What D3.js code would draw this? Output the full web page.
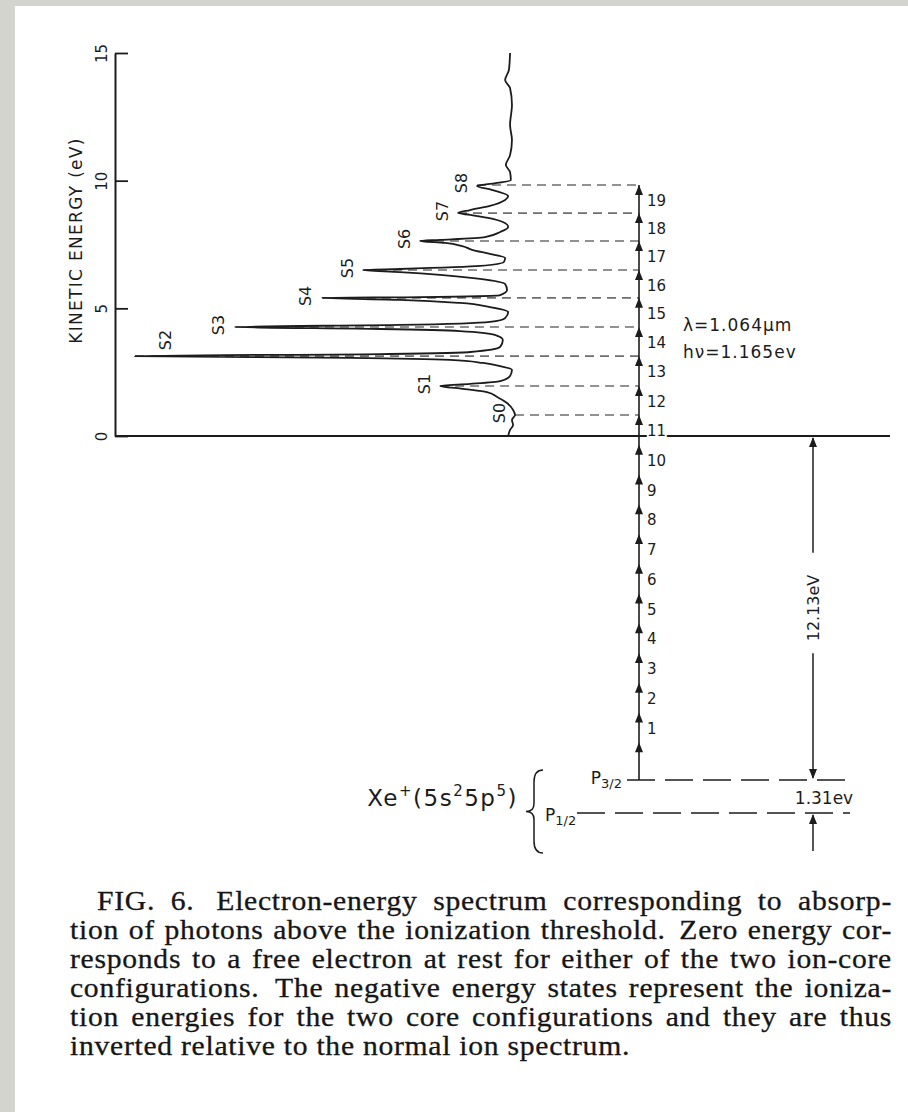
<!DOCTYPE html>
<html><head><meta charset="utf-8">
<script src="https://cdn.jsdelivr.net/npm/d3@7"></script>
<style>
html,body{margin:0;padding:0;background:#fff;}
svg{display:block;}
</style></head><body>
<svg id="fig" width="908" height="1112"></svg>
<script>
// Above-threshold photoelectron peaks S0–S8: kinetic energy (eV) and peak height (S2 = 100)
const peakNames  = ["S0","S1","S2","S3","S4","S5","S6","S7","S8"];
const peakEnergy = [0.82, 1.96, 3.13, 4.27, 5.41, 6.50, 7.64, 8.73, 9.83];
const peakSignal = [0, 19.7, 100, 73.7, 50.8, 40.0, 25.0, 15.0, 10.0];

// Recorded electron spectrum, from 15 eV down to 0 eV
const traceEnergy = [15.00,14.34,13.94,13.63,12.97,12.18,11.59,11.00,10.61,10.34,10.03,9.87,9.79,9.64,9.40,9.24,9.01,8.85,8.73,8.66,8.54,8.38,8.19,7.99,7.79,7.68,7.64,7.56,7.44,7.29,7.13,6.97,6.82,6.66,6.54,6.50,6.42,6.31,6.15,5.95,5.72,5.52,5.44,5.41,5.33,5.21,5.05,4.86,4.62,4.47,4.35,4.27,4.19,4.11,3.96,3.76,3.49,3.29,3.21,3.13,3.06,2.98,2.86,2.74,2.59,2.35,2.15,2.04,1.96,1.84,1.72,1.53,1.29,1.02,0.82,0.63,0.43,0.24,0.00];
const traceSignal = [1.3,1.6,2.6,1.3,0.8,1.3,0.8,1.3,2.4,1.3,1.1,6.6,10.0,6.1,1.8,2.6,6.6,11.8,15.0,11.8,7.1,3.2,1.8,3.9,7.9,19.7,25.0,18.4,13.9,11.3,6.6,2.6,2.9,9.2,30.3,40.0,30.3,19.7,9.2,2.6,2.1,3.9,25.0,50.8,30.3,14.5,6.6,1.8,2.6,6.6,30.3,73.7,35.5,14.5,5.3,3.2,3.9,11.8,35.5,100,43.4,17.1,8.4,3.9,0.8,1.3,3.9,11.8,19.7,13.2,7.4,4.7,2.1,0.5,0,0.8,0.5,1.3,1.8];

const energyTicks = [0, 5, 10, 15];
const photonLabels = [1,2,3,4,5,6,7,8,9,10,11,12,13,14,15,16,17,18,19];

// Laser and Xe+ core constants (eV)
const photonEnergy = 1.165;
const ionizationEnergy = 12.13;     // to Xe+ 2P3/2
const coreSplitting = 1.31;         // 2P3/2 – 2P1/2

const captionLines = [
  "FIG. 6.  Electron-energy spectrum corresponding to absorp-",
  "tion of photons above the ionization threshold.  Zero energy cor-",
  "responds to a free electron at rest for either of the two ion-core",
  "configurations.  The negative energy states represent the ioniza-",
  "tion energies for the two core configurations and they are thus",
  "inverted relative to the normal ion spectrum."
];

const svg = d3.select("#fig");
const ink = "#1c1c1c";
const sans = "'DejaVu Sans', Verdana, sans-serif";

// page: grey scanner margin and white sheet
svg.append("rect").attr("width", 908).attr("height", 1112).attr("fill", "#d3d4ce");
svg.append("rect").attr("x", 15).attr("y", 6).attr("width", 893).attr("height", 1106).attr("fill", "#fff");

// scales
const y = d3.scaleLinear().domain([0, 15]).range([436, 53]);               // kinetic energy
const yCore = d3.scaleLinear()                                             // bound levels (schematic)
  .domain([-(ionizationEnergy + coreSplitting), -ionizationEnergy, 0])
  .range([813, 780, 436]);
const xs = d3.scaleLinear().domain([0, 100]).range([515, 135]);            // signal, growing leftward

const axisX = 115, ladderX = 639, gapArrowX = 813;

// energy axis
const ax = svg.append("g").attr("transform", `translate(${axisX},0)`)
  .call(d3.axisLeft(y).tickValues(energyTicks).tickSize(-13).tickSizeOuter(0).tickPadding(0));
ax.select(".domain").attr("stroke", ink).attr("stroke-width", 2);
ax.selectAll(".tick line").attr("stroke", ink).attr("stroke-width", 1.8);
ax.selectAll(".tick text")
  .attr("x", null).attr("dy", null)
  .attr("transform", "translate(-8,0) rotate(-90)")
  .attr("text-anchor", "middle")
  .attr("font-family", sans).attr("font-size", 15).attr("fill", ink);

svg.append("text")
  .attr("transform", `translate(82,${(y(15) + y(0)) / 2 - 4}) rotate(-90)`)
  .attr("text-anchor", "middle")
  .attr("font-family", sans).attr("font-size", 17).attr("letter-spacing", 1.3).attr("fill", ink)
  .text("KINETIC ENERGY (eV)");

// zero-energy line
svg.append("line").attr("x1", axisX).attr("x2", 890).attr("y1", y(0)).attr("y2", y(0))
  .attr("stroke", ink).attr("stroke-width", 2);

// dashed lines joining each peak to its photon level
svg.append("g").selectAll("line").data(peakEnergy).join("line")
  .attr("x1", (d, i) => xs(peakSignal[i])).attr("x2", ladderX)
  .attr("y1", d => y(d)).attr("y2", d => y(d))
  .attr("stroke", "#6e6e6e").attr("stroke-width", 1.6).attr("stroke-dasharray", "9,6");

// spectrum trace
const tracePts = traceEnergy.map((e, i) => [traceSignal[i], e]);
svg.append("path").datum(tracePts)
  .attr("d", d3.line().x(d => xs(d[0])).y(d => y(d[1])).curve(d3.curveMonotoneY))
  .attr("fill", "none").attr("stroke", ink).attr("stroke-width", 1.8).attr("stroke-linejoin", "round");

// peak labels
svg.append("g").selectAll("text").data(peakNames).join("text")
  .attr("transform", (d, i) => {
    const px = xs(peakSignal[i]), py = y(peakEnergy[i]);
    return px < 160 ? `translate(${px + 30},${py - 16}) rotate(-90)`
                    : `translate(${px - 16},${py - 2}) rotate(-90)`;
  })
  .attr("text-anchor", "middle").attr("dominant-baseline", "central")
  .attr("font-family", sans).attr("font-size", 16).attr("fill", ink)
  .text(d => d);

// photon ladder: levels reached after k photons (k = 0 … 19)
const levelEnergy = k => k >= 11 ? peakEnergy[k - 11] : peakEnergy[0] - (11 - k) * photonEnergy;
const ladderLevels = [0].concat(photonLabels).map(levelEnergy);

svg.append("line").attr("x1", ladderX).attr("x2", ladderX)
  .attr("y1", y(ladderLevels[ladderLevels.length - 1])).attr("y2", yCore(-ionizationEnergy))
  .attr("stroke", ink).attr("stroke-width", 1.6);

const head = (x, yy, dir) => `M${x},${yy} L${x - 4},${yy - dir * 10} L${x + 4},${yy - dir * 10} Z`;
svg.append("g").selectAll("path").data(ladderLevels).join("path")
  .attr("d", d => head(ladderX, y(d), -1)).attr("fill", ink);

svg.append("g").selectAll("text").data(photonLabels).join("text")
  .attr("x", ladderX + 8).attr("y", k => y(ladderLevels[k]) + 16)
  .attr("dominant-baseline", "central")
  .attr("font-family", sans).attr("font-size", 15).attr("fill", ink)
  .attr("stroke", "#fff").attr("stroke-width", 4).attr("paint-order", "stroke")
  .text(d => d);

// laser annotation
const laser = svg.append("g").attr("font-family", sans).attr("font-size", 17).attr("letter-spacing", 1).attr("fill", ink);
laser.append("text").attr("x", 683).attr("y", y(4.27) + 4).text("λ=1.064μm");
laser.append("text").attr("x", 683).attr("y", y(3.13) + 2).text(`hν=${photonEnergy}ev`);

// ionization gap arrow (12.13 eV)
const gapTop = yCore(0), gapBot = yCore(-ionizationEnergy), gapMid = (gapTop + gapBot) / 2;
const gapLabel = svg.append("text")
  .attr("transform", `translate(${gapArrowX},${gapMid}) rotate(-90)`)
  .attr("text-anchor", "middle").attr("dominant-baseline", "central")
  .attr("font-family", sans).attr("font-size", 16).attr("fill", ink)
  .text(`${ionizationEnergy}eV`);
const half = gapLabel.node().getComputedTextLength() / 2;
svg.append("line").attr("x1", gapArrowX).attr("x2", gapArrowX)
  .attr("y1", gapTop + 2).attr("y2", gapMid - half - 22).attr("stroke", ink).attr("stroke-width", 1.5);
svg.append("line").attr("x1", gapArrowX).attr("x2", gapArrowX)
  .attr("y1", gapMid + half + 12).attr("y2", gapBot - 2).attr("stroke", ink).attr("stroke-width", 1.5);
svg.append("path").attr("d", head(gapArrowX, gapTop + 1, -1)).attr("fill", ink);
svg.append("path").attr("d", head(gapArrowX, gapBot - 1, 1)).attr("fill", ink);

// core levels
const p32 = yCore(-ionizationEnergy), p12 = yCore(-(ionizationEnergy + coreSplitting));
svg.append("line").attr("x1", 627).attr("x2", 850).attr("y1", p32).attr("y2", p32)
  .attr("stroke", ink).attr("stroke-width", 1.5).attr("stroke-dasharray", "28,10");
svg.append("line").attr("x1", 577).attr("x2", 850).attr("y1", p12).attr("y2", p12)
  .attr("stroke", ink).attr("stroke-width", 1.5).attr("stroke-dasharray", "28,10");
// splitting arrow from below
svg.append("line").attr("x1", gapArrowX).attr("x2", gapArrowX)
  .attr("y1", p12 + 2).attr("y2", p12 + 38).attr("stroke", ink).attr("stroke-width", 1.5);
svg.append("path").attr("d", head(gapArrowX, p12 + 1, -1)).attr("fill", ink);
svg.append("text").attr("x", 824).attr("y", (p32 + p12) / 2 + 1)
  .attr("text-anchor", "middle").attr("dominant-baseline", "central")
  .attr("font-family", sans).attr("font-size", 17).attr("fill", ink)
  .text(`${coreSplitting}ev`);

// level names
const lvl = svg.append("g").attr("font-family", sans).attr("fill", ink);
const t32 = lvl.append("text").attr("x", 622).attr("y", p32 + 4).attr("text-anchor", "end").attr("font-size", 17);
t32.append("tspan").text("P");
t32.append("tspan").attr("font-size", 13).attr("dy", 4).text("3/2");
const t12 = lvl.append("text").attr("x", 545).attr("y", p12 + 8).attr("font-size", 17);
t12.append("tspan").text("P");
t12.append("tspan").attr("font-size", 13).attr("dy", 4).text("1/2");

const xe = lvl.append("text").attr("x", 518).attr("y", (p32 + p12) / 2 + 9)
  .attr("text-anchor", "end").attr("font-size", 23).attr("letter-spacing", 1.5);
xe.append("tspan").text("Xe");
xe.append("tspan").attr("font-size", 15).attr("dy", -10).text("+");
xe.append("tspan").attr("dy", 10).text("(5s");
xe.append("tspan").attr("font-size", 15).attr("dy", -10).text("2");
xe.append("tspan").attr("dy", 10).text("5p");
xe.append("tspan").attr("font-size", 15).attr("dy", -10).text("5");
xe.append("tspan").attr("dy", 10).text(")");

// brace grouping the two core levels
const bTop = p32 - 10, bBot = p12 + 40, bMid = (bTop + bBot) / 2, bx = 534;
svg.append("path")
  .attr("d", `M${bx + 9},${bTop} Q${bx},${bTop} ${bx},${bTop + 12} L${bx},${bMid - 8} Q${bx},${bMid} ${bx - 8},${bMid}
              Q${bx},${bMid} ${bx},${bMid + 8} L${bx},${bBot - 12} Q${bx},${bBot} ${bx + 9},${bBot}`)
  .attr("fill", "none").attr("stroke", ink).attr("stroke-width", 1.5);

// caption: a slightly wide Times setting, justified between the text margins,
// with the closing line running to about x = 630
const serif = "'Liberation Serif', 'Times New Roman', serif";
const capLeft = 70, capIndent = 97, capRight = 892, capSize = 26.5, capWide = 1.12;
const cap = svg.append("g").attr("transform", `scale(${capWide},1)`)
  .attr("font-family", serif).attr("font-size", capSize)
  .attr("fill", "#161616").attr("stroke", "#161616").attr("stroke-width", 0.3);
const probe = cap.append("text").text(captionLines[5]);
const track = Math.max(0, Math.min(2,
  (560 / capWide - probe.node().getComputedTextLength()) / captionLines[5].length));
probe.remove();
cap.attr("letter-spacing", track);

captionLines.forEach((line, li) => {
  const x0 = li === 0 ? capIndent : capLeft, x1 = capRight, base = 910 + li * 29;
  const parts = line.match(/\S+ */g);
  const widths = [], weights = [];
  const nodes = parts.map(p => {
    const w = p.trim();
    const t = cap.append("text").attr("y", base).text(w);
    widths.push(t.node().getComputedTextLength() * capWide);
    weights.push(p.length - w.length >= 2 ? 1.4 : 1);
    return t;
  });
  const total = d3.sum(widths);
  const wSum = d3.sum(weights.slice(0, -1));
  const natural = (capSize * 0.25 + track) * capWide;
  const unit = li === captionLines.length - 1 ? natural : (x1 - x0 - total) / wSum;
  let x = x0;
  nodes.forEach((t, i) => { t.attr("x", x / capWide); x += widths[i] + unit * weights[i]; });
});
</script>
</body></html>
